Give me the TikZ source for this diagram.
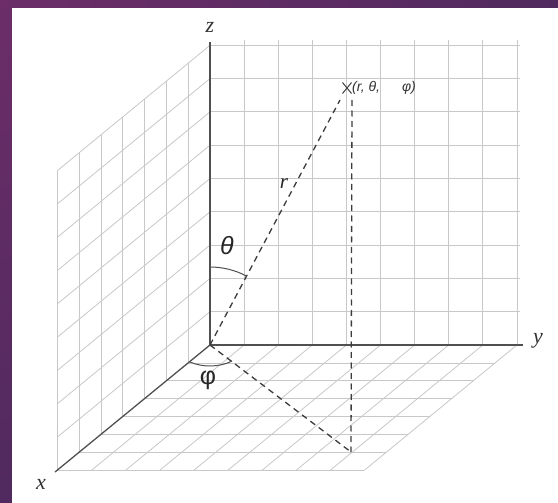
\documentclass[tikz,border=0pt]{standalone}
\usepackage{fontspec}
\newfontfamily\lsans{Liberation Sans}
\newfontfamily\lserif{Liberation Serif}
\usetikzlibrary{shapes.misc,shadings}
\definecolor{bgA}{RGB}{108,45,104}
\definecolor{bgB}{RGB}{80,42,95}
\definecolor{gridc}{RGB}{200,200,200}
\definecolor{axisc}{RGB}{80,80,80}
\definecolor{dashc}{RGB}{60,60,60}
\begin{document}
\begin{tikzpicture}[x=1pt,y=-1pt,
  gridline/.style={gridc, line width=0.8pt},
  axisline/.style={axisc, line width=1.6pt},
  dashline/.style={dashc, line width=1.3pt, dash pattern=on 6pt off 4.5pt},
  anglearc/.style={axisc, line width=1pt},
  axislabel/.style={font=\fontsize{22}{24}\selectfont\lserif\itshape, text=black!80, inner sep=0pt},
  anglelabel/.style={font=\fontsize{25}{27}\selectfont\lsans, text=black!85, inner sep=0pt},
  rlabel/.style={font=\fontsize{21}{23}\selectfont\lserif\itshape, text=black!85, inner sep=0pt},
  pointlabel/.style={font=\fontsize{14}{16}\selectfont\lsans\itshape, text=black!80, inner sep=0pt, anchor=west},
  marker/.style={cross out, draw=black!75, line width=1pt, minimum width=8pt, minimum height=10pt, inner sep=0pt}]
\useasboundingbox (0,0) rectangle (558,503);
\shade[upper left=bgA, upper right=bgB, lower left=bgB, lower right=bgB] (0,0) rectangle (558,503);
\fill[white] (12,8.5) rectangle (558,503);

% grids
\begin{scope}[shift={(210pt,-345pt)}, x={(-21.8pt,-17.9pt)}, y={(34.1pt,0pt)}, z={(0pt,33.3pt)}]
  % back wall (y-z)
  \foreach \k in {1,...,9} \draw[gridline] (0,\k,0) -- (0,\k,9.15);
  \foreach \j in {1,...,9} \draw[gridline] (0,0,\j) -- (0,9.1,\j);
  % left wall (x-z)
  \foreach \k in {1,...,7} \draw[gridline] (\k,0,0) -- (\k,0,9);
  \foreach \j in {1,...,9} \draw[gridline] (0,0,\j) -- (7,0,\j);
  % floor (x-y)
  \foreach \k in {1,...,7} \draw[gridline] (\k,0,0) -- (\k,9,0);
  \foreach \j in {1,...,9} \draw[gridline] (0,\j,0) -- (7,\j,0);
\end{scope}

% axes
\coordinate (O) at (210,345);
\coordinate (Z) at (210,42);
\coordinate (Y) at (523,345);
\coordinate (X) at (55,472);
\draw[axisline] (O) -- (Z);
\draw[axisline] (O) -- (Y);
\draw[axisline, line width=1.3pt] (O) -- (X);
\node[axislabel] (zl) at (210,27) {z};
\node[axislabel] (yl) at (538,341) {y};
\node[axislabel] (xl) at (41,484) {x};

% point and projections
\coordinate (P) at (340,100);
\coordinate (Pv) at (352,100);
\coordinate (Pf) at (351,452);
\draw[dashline] (O) -- (P);
\draw[dashline] (Pv) -- (Pf);
\draw[dashline] (O) -- (Pf);
\node[marker] (Pm) at (347,88) {};
\node[pointlabel] (pl) at (352,88) {(r, θ,\hspace{22pt}φ)};

% angles
\draw[anglearc] (O) ++(0,-78) arc[start angle=-90, end angle=-62, radius=78];
\draw[anglearc] (O) ++(126:34 and 21) arc[start angle=126, end angle=50, x radius=34, y radius=21];
\node[anglelabel, font=\fontsize{25}{27}\selectfont\lsans\itshape] (thl) at (227,246) {θ};
\node[anglelabel] (phl) at (208,380) {φ};
\node[rlabel] (rl) at (284,184) {r};
\end{tikzpicture}
\end{document}
